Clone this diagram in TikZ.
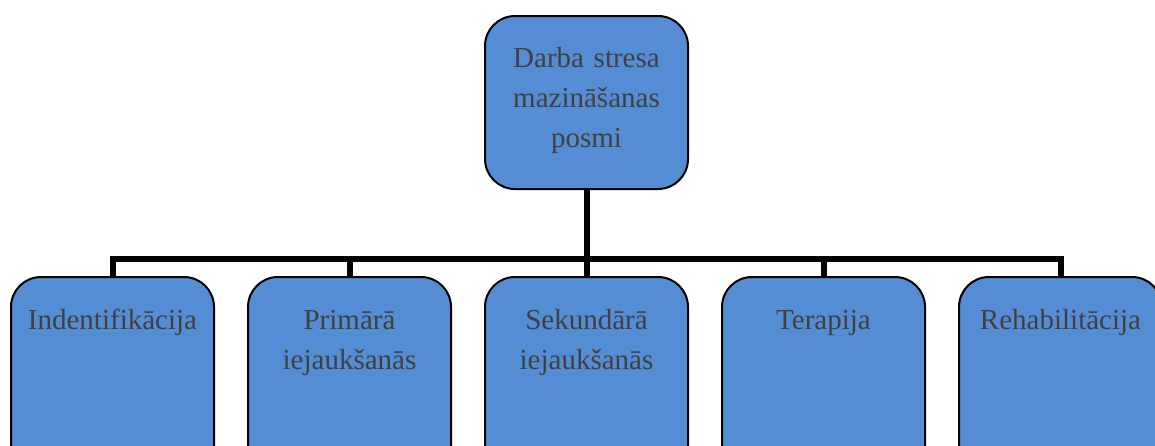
\documentclass[tikz,border=0pt]{standalone}
\usepackage{fontspec}
\setmainfont{Liberation Serif}
\definecolor{stageblue}{RGB}{84, 141, 212}
\definecolor{stagetext}{RGB}{64, 64, 64}
\tikzset{
	stagebox/.style = {draw = black, line width = 1pt, fill = stageblue, rounded corners = 15pt,
		minimum width = 101.5pt, text width = 96pt, align = center, inner xsep = 0pt, inner ysep = 0pt,
		text = stagetext, font = \fontsize{14.5}{20}\selectfont},
	branch/.style = {line width = 3pt}
}

\begin{document}
\begin{tikzpicture}[x = 0.5pt, y = -0.5pt]
		\clip (0, 0) rectangle (1155, 445) ;
		\begin{scope} % Top
			\node [stagebox, anchor = north, text height = 25.5pt, text depth = 61pt] (posmi) at (586.5, 15) {Darba stresa\\mazināšanas\\posmi} ;
			\coordinate (split) at (586.5, 259) ;
		\end{scope}
		\begin{scope} % Stages
			\foreach \name/\x/\label in {ident/112.5/Indentifikācija, prim/349.5/{Primārā\\iejaukšanās},
					sek/586.5/{Sekundārā\\iejaukšanās}, terap/823.5/Terapija, rehab/1060.5/Rehabilitācija}{
				\node [stagebox, anchor = north, text height = 26pt, text depth = 74pt] (\name) at (\x, 276) {\label} ;
			}
		\end{scope}
		\draw [branch] (posmi.south) -- (split) ;
		\draw [branch] (ident.north) -- (ident.north |- split) -- (rehab.north |- split) -- (rehab.north) ;
		\foreach \name in {prim, sek, terap}{
			\draw [branch] (\name.north |- split) -- (\name.north) ;
		}
	\end{tikzpicture}
\end{document}
